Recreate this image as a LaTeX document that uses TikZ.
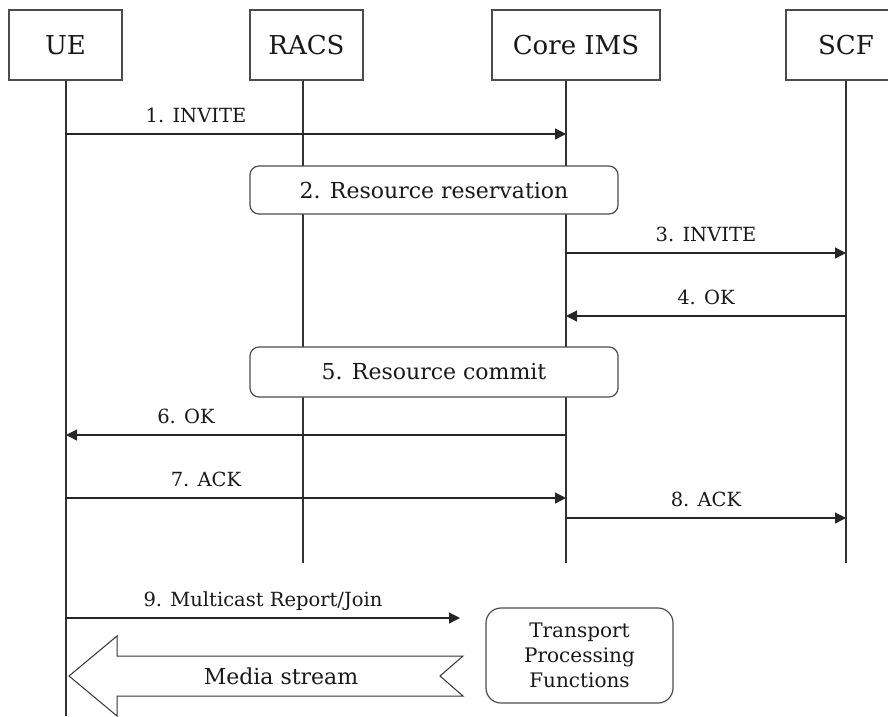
\documentclass[tikz,border=0pt]{standalone}
\usepackage{fontspec}
\setmainfont{DejaVu Serif}
\usetikzlibrary{arrows.meta}
\begin{document}
\begin{tikzpicture}[x=1pt,y=-1pt,>={Triangle[length=11pt,width=11pt]}]
    \tikzstyle{every node}=[text=black!90]
    \tikzstyle{entity}=[draw=black!70,line width=1.2pt,fill=white,inner sep=0pt,minimum height=70pt,font=\fontsize{26}{30}\selectfont]
    \tikzstyle{action}=[draw=black!70,line width=1.2pt,fill=white,rounded corners=9pt,minimum width=368pt,font=\fontsize{22}{26}\selectfont]
    \tikzstyle{life}=[draw=black!80,line width=1.2pt]
    \tikzstyle{msg}=[->,draw=black!85,line width=1.2pt]
    \tikzstyle{lbl}=[above=8pt,text depth=0pt,font=\fontsize{19.5}{23}\selectfont]
    \useasboundingbox (0,0) rectangle (888,716);
    \clip (0,0) rectangle (888,716);
    % entities
    \node[entity,minimum width=113pt] (ue) at (65.5,45) {UE};
    \node[entity,minimum width=113pt] (racs) at (306.5,45) {RACS};
    \node[entity,minimum width=168pt] (core) at (576,45) {Core IMS};
    \node[entity,minimum width=120pt] (scf) at (846,45) {SCF};
    % lifelines
    \coordinate (ueEnd) at (66,716);
    \coordinate (racsEnd) at (303,563);
    \coordinate (coreEnd) at (566,563);
    \coordinate (scfEnd) at (846,563);
    \draw[life] (ue.south-|ueEnd) -- (ueEnd);
    \draw[life] (racs.south-|racsEnd) -- (racsEnd);
    \draw[life] (core.south-|coreEnd) -- (coreEnd);
    \draw[life] (scf.south-|scfEnd) -- (scfEnd);
    % resource steps
    \node[action,minimum height=48pt] (resv) at (434,190) {2. Resource reservation};
    \node[action,minimum height=50pt] (commit) at (434,372) {5. Resource commit};
    % messages
    \draw[msg] (ueEnd|-0,134) -- node[lbl,pos=.26]{1. INVITE} (coreEnd|-0,134);
    \draw[msg] (coreEnd|-0,253) -- node[lbl]{3. INVITE} (scfEnd|-0,253);
    \draw[msg] (scfEnd|-0,316) -- node[lbl]{4. OK} (coreEnd|-0,316);
    \draw[msg] (coreEnd|-0,435) -- node[lbl,pos=.76]{6. OK} (ueEnd|-0,435);
    \draw[msg] (ueEnd|-0,498) -- node[lbl,pos=.28]{7. ACK} (coreEnd|-0,498);
    \draw[msg] (coreEnd|-0,518) -- node[lbl]{8. ACK} (scfEnd|-0,518);
    % multicast part
    \node[draw=black!70,line width=1.2pt,rounded corners=15pt,minimum width=187pt,minimum height=95pt,align=center,
        font=\fontsize{20}{25}\selectfont] (tpf) at (579.5,655.5) {Transport\\Processing\\Functions};
    \coordinate (joinEnd) at (460,618);
    \draw[msg] (ueEnd|-joinEnd) -- node[lbl]{9. Multicast Report/Join} (joinEnd);
    \draw[life,line width=1pt,fill=white] (69,676) -- (117,636) -- (117,656) -- (463,656) -- (440,676)
        -- (463,696) -- (117,696) -- (117,716) -- cycle;
    \node[font=\fontsize{22}{26}\selectfont] (media) at (281,676) {Media stream};
\end{tikzpicture}
\end{document}
